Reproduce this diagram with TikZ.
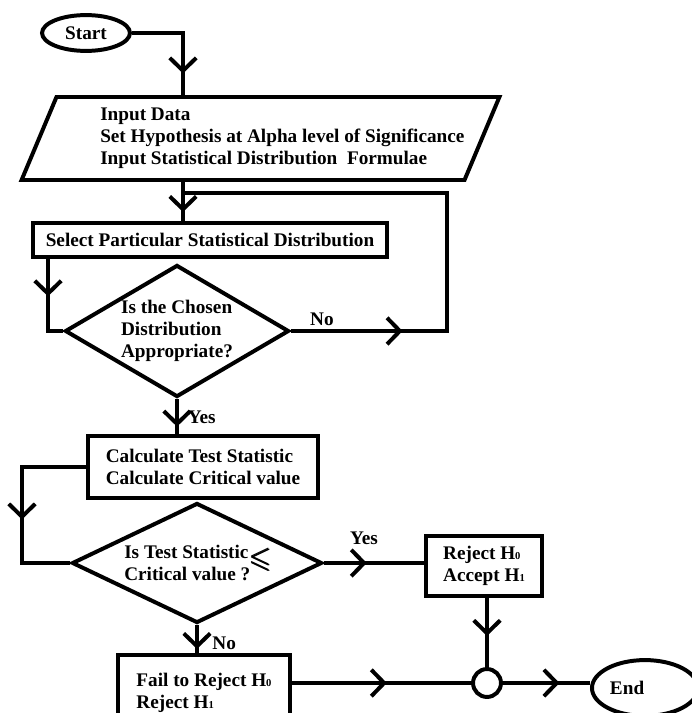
\documentclass[tikz,border=0pt]{standalone}
\usepackage{amssymb}
\usepackage{fontspec}
\setmainfont{Liberation Serif}
\usetikzlibrary{arrows.meta,positioning,shapes.geometric,decorations.markings}
\newcommand{\hyp}[1]{H{\footnotesize #1}}
\newcommand{\fatleq}{\rlap{$\leqslant$}\rlap{\hspace{0.5pt}$\leqslant$}\raisebox{0.5pt}{$\leqslant$}}

\begin{document}
\begin{tikzpicture}[x=0.0265cm, y=-0.0265cm,
  >={Straight Barb[length=3.4mm, width=7mm]},
  line width=3pt,
  txt/.style={font=\fontsize{14.5}{16.5}\selectfont\bfseries, align=left},
  box/.style={txt, draw, rectangle, inner sep=2pt},
  term/.style={txt, draw, ellipse, inner sep=0pt},
  decide/.style={txt, draw, diamond, inner sep=0pt},
  io/.style={txt, draw, trapezium, trapezium left angle=60, trapezium right angle=120, trapezium stretches body, inner sep=0pt},
  lab/.style={font=\fontsize{14.5}{16}\selectfont\bfseries, inner sep=1pt},
  midarr/.style={postaction={decorate}, decoration={markings, mark=at position #1 with {\arrow{>}}}},
]
\useasboundingbox (0,0) rectangle (692,713);
\node[term, minimum width=2.33cm, minimum height=0.95cm] (start) at (86,33) {Start};
\node[io, minimum width=12.53cm, minimum height=2.2cm] (inp) at (260.5,138.5)
  {\hspace*{33pt}Input Data\\\hspace*{33pt}Set Hypothesis at Alpha level of Significance\\\hspace*{33pt}Input Statistical Distribution\ \ Formulae};
\node[box, minimum width=9.38cm, minimum height=0.9cm] (sel) at (210,240) {Select Particular Statistical Distribution};
\node[decide, aspect=1.7, minimum width=5.94cm, minimum height=3.5cm] (d1) at (177,331) {Is the Chosen\\Distribution\\Appropriate?};
\node[box, minimum width=6.1cm, minimum height=1.62cm] (calc) at (203,467) {Calculate Test Statistic\\Calculate Critical value};
\node[decide, aspect=2.08, minimum width=6.63cm, minimum height=3.18cm] (d2) at (197,563)
  {Is Test Statistic\makebox[16pt][l]{\smash{\raisebox{-7pt}{\scalebox{1.5}{\fatleq}}}}\\Critical value ?};
\node[box, minimum width=3.1cm, minimum height=1.59cm] (rej) at (484,566) {Reject \hyp{0}\\Accept \hyp{1}};
\node[box, minimum width=4.56cm, minimum height=2cm] (fail) at (204,693) {Fail to Reject \hyp{0}\\Reject \hyp{1}};
\node[draw, circle, minimum size=0.74cm, inner sep=0pt] (join) at (487,683) {};
\node[term, minimum width=2.81cm, minimum height=1.48cm] (end) at (645,688) {End\hspace{27pt}};
% bends
\coordinate (jtop) at (183,0);
\coordinate (jleft) at (48,0);
\coordinate (fbk) at (447,193);
\coordinate (jcalc) at (22,520);
\draw[midarr=0.81] (start.east) -| (inp.north -| jtop);
\draw[midarr=0.77] (inp.south -| jtop) -- (sel.north -| jtop);
\draw[midarr=0.43] (sel.south -| jleft) |- (d1.west);
\draw[midarr=0.2] (d1.east) -| (fbk) -- (fbk -| jtop);
\draw[midarr=0.78] (d1.south) -- (d1.south |- calc.north);
\draw[midarr=0.56] (calc.west) -| (jcalc) |- (d2.west);
\draw[midarr=0.43] (d2.east) -- (d2.east -| rej.west);
\draw[midarr=0.85] (d2.south) -- (d2.south |- fail.north);
\draw[midarr=0.55] (rej.south -| join.north) -- (join.north);
\draw[midarr=0.53] (fail.east |- join.west) -- (join.west);
\draw[midarr=0.65] (join.east) -- (join.east -| end.west);
% labels
\node[lab, above right=0.05cm and 0.42cm of d1.east] (no1) {No};
\node[lab, below right=0.22cm and 0.2cm of d1.south] (yes1) {Yes};
\node[lab, above right=0.4cm and 0.6cm of d2.east] (yes2) {Yes};
\node[lab, below right=0.22cm and 0.32cm of d2.south] (no2) {No};
\end{tikzpicture}
\end{document}
